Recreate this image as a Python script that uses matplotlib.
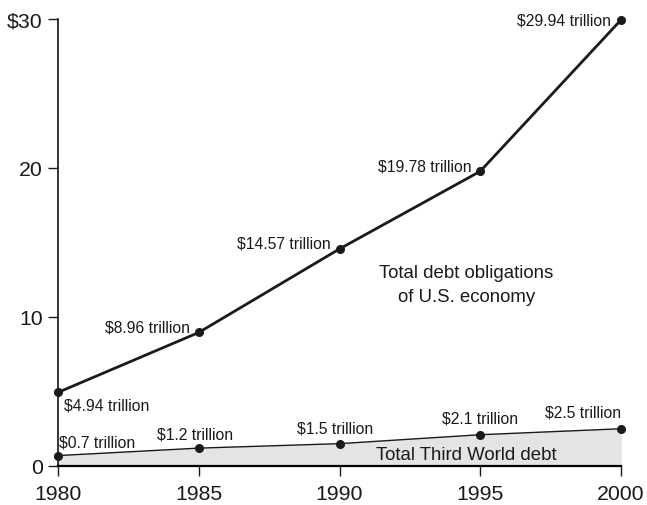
import numpy as np
import matplotlib.pyplot as plt

plt.rcParams['font.family'] = ['Liberation Sans', 'DejaVu Sans']

years = [1980, 1985, 1990, 1995, 2000]
us_debt = [4.94, 8.96, 14.57, 19.78, 29.94]
tw_debt = [0.7, 1.2, 1.5, 2.1, 2.5]
us_labels = ["$4.94 trillion", "$8.96 trillion", "$14.57 trillion", "$19.78 trillion", "$29.94 trillion"]
tw_labels = ["$0.7 trillion", "$1.2 trillion", "$1.5 trillion", "$2.1 trillion", "$2.5 trillion"]
yticks = [0, 10, 20, 30]
ytick_labels = ["0", "10", "20", "$30"]

fig = plt.figure(figsize=(6.47, 5.06), dpi=100)
ax = fig.add_axes([58/647, 39/506, 563/647, 447/506])

ax.fill_between(years, tw_debt, 0, color="#e4e4e4", zorder=1)
ax.plot(years, tw_debt, color="#1a1a1a", lw=1.0, marker="o", ms=5.5, zorder=3, clip_on=False)
ax.plot(years, us_debt, color="#1a1a1a", lw=2.0, marker="o", ms=5.5, zorder=3, clip_on=False)

# label offsets in points (dx, dy, ha)
us_off = [(4, -9, "left"), (-6, 4, "right"), (-6, 4, "right"), (-6, 4, "right"), (-7, 0, "right")]
tw_off = [(1, 10, "left"), (-3, 10, "center"), (-3, 11, "center"), (0, 12, "center"), (-27, 12, "center")]
for x, y, s, (dx, dy, ha) in zip(years, us_debt, us_labels, us_off):
    ax.annotate(s, (x, y), xytext=(dx, dy), textcoords="offset points",
                ha=ha, va="center", fontsize=11.3, color="#1a1a1a")
for x, y, s, (dx, dy, ha) in zip(years, tw_debt, tw_labels, tw_off):
    ax.annotate(s, (x, y), xytext=(dx, dy), textcoords="offset points",
                ha=ha, va="center", fontsize=11.3, color="#1a1a1a")

ax.text(1994.5, 12.2, "Total debt obligations\nof U.S. economy", ha="center", va="center",
        fontsize=13.4, color="#1a1a1a", linespacing=1.55)
ax.text(1994.5, 0.78, "Total Third World debt", ha="center", va="center",
        fontsize=13.4, color="#1a1a1a")

ax.set_xlim(1980, 2000)
ax.set_ylim(0, 30)
ax.set_xticks(years)
ax.set_yticks(yticks)
ax.set_yticklabels(ytick_labels)
ax.tick_params(axis="both", direction="out", length=7, width=1, labelsize=15.3,
               colors="#1a1a1a", pad=4)
ax.tick_params(axis="x", pad=6)
for side in ["top", "right"]:
    ax.spines[side].set_visible(False)
ax.spines["left"].set_linewidth(1.1)
ax.spines["bottom"].set_linewidth(1.6)

fig.savefig("out.png", dpi=100)
